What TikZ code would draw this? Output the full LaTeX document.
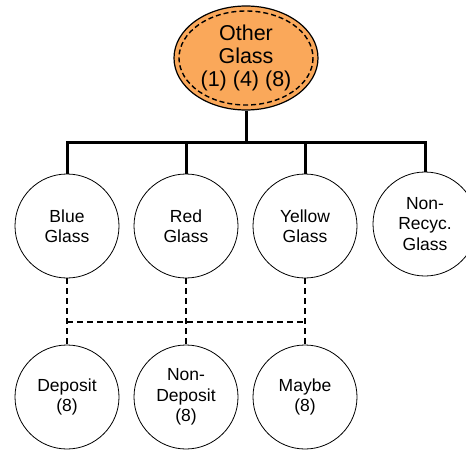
\documentclass[tikz,border=0pt]{standalone}
\usepackage{fontspec}
\setmainfont{Liberation Sans}
\usetikzlibrary{shapes,calc}
\definecolor{glassorange}{RGB}{250,168,90}
\tikzstyle{glass}=[circle,draw,line width=0.8pt,minimum size=104pt,inner sep=0pt,align=center,font=\fontsize{17.5}{20.5}\selectfont]
\tikzstyle{trunk}=[line width=3pt]
\tikzstyle{maybeline}=[line width=2pt,dash pattern=on 6pt off 4pt]

\begin{document}
\begin{tikzpicture}[x=1pt,y=-1pt]
\useasboundingbox (0,0) rectangle (466,450);
% root of the tree
\node[ellipse,draw,line width=1.2pt,fill=glassorange,minimum width=144pt,minimum height=104pt,inner sep=0pt,align=center,font=\fontsize{21.5}{23}\selectfont] (other) at (246,58) {Other\\Glass\\(1) (4) (8)};
\draw[line width=1.4pt,dash pattern=on 5pt off 3pt] (other.center) ellipse (67 and 47); % inner ring
% first row
\node[glass] (blue) at (67,226) {Blue\\Glass};
\node[glass] (red) at (186,226) {Red\\Glass};
\node[glass] (yellow) at (305,226) {Yellow\\Glass};
\node[glass] (nonrec) at (425,224) {Non-\\Recyc.\\Glass};
% second row
\node[glass] (deposit) at (67,397) {Deposit\\(8)};
\node[glass] (nondep) at (186,397) {Non-\\Deposit\\(8)};
\node[glass] (maybe) at (305,397) {Maybe\\(8)};
% solid links
\coordinate (bar) at (246,142);
\draw[trunk] (other.south) -- (bar);
\draw[trunk] (blue.north) |- (bar) -| (nonrec.north);
\draw[trunk] (red.north) -- (red.north |- bar);
\draw[trunk] (yellow.north) -- (yellow.north |- bar);
% dashed links
\coordinate (split) at (186,322);
\draw[maybeline] (blue.south) -- (deposit.north);
\draw[maybeline] (red.south) -- (nondep.north);
\draw[maybeline] (yellow.south) -- (maybe.north);
\draw[maybeline] (blue.south |- split) -- (yellow.south |- split);
\end{tikzpicture}
\end{document}
